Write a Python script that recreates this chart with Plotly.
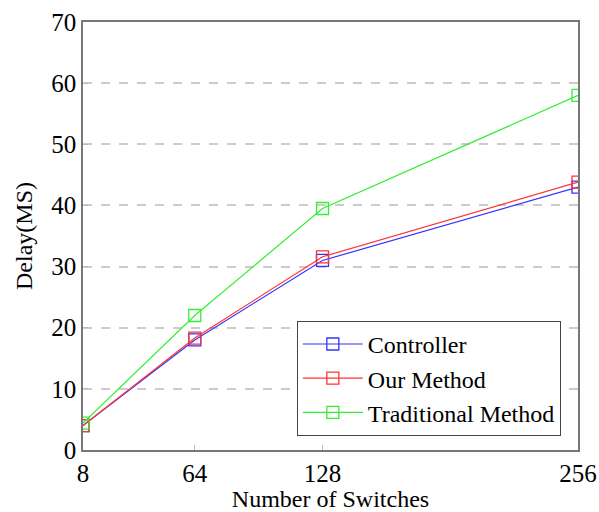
import plotly.graph_objects as go

switches = [8, 64, 128, 256]
controller = [4.0, 18.0, 31.0, 43.0]
our_method = [4.0, 18.3, 31.6, 43.8]
traditional = [4.4, 22.0, 39.5, 58.0]
y_ticks = [0, 10, 20, 30, 40, 50, 60, 70]

series = [
    ("Controller", controller, "#3333ff"),
    ("Our Method", our_method, "#ff3333"),
    ("Traditional Method", traditional, "#33ee33"),
]

fig = go.Figure()
for name, vals, col in series:
    fig.add_trace(go.Scatter(
        x=switches, y=vals, name=name, mode="lines+markers",
        line=dict(color=col, width=1.2),
        marker=dict(symbol="square-open", size=12, color=col, line=dict(width=1.3)),
    ))

font = "Liberation Serif"
fig.update_layout(
    width=599, height=512,
    margin=dict(l=83, r=21, t=22, b=62),
    plot_bgcolor="white", paper_bgcolor="white",
    font=dict(family=font, size=22, color="black"),
    showlegend=True,
    legend=dict(
        x=0.432, y=0.033, xanchor="left", yanchor="bottom",
        bordercolor="#444444", borderwidth=1, bgcolor="white",
        font=dict(family=font, size=24), itemwidth=60,
        tracegroupgap=0,
    ),
)
fig.update_xaxes(
    range=[8, 256], tickvals=switches, ticktext=[str(s) for s in switches],
    showgrid=False, zeroline=False, showline=True, linecolor="#777777", linewidth=1.5,
    mirror=True, ticks="inside", ticklen=5, tickcolor="#bbbbbb", automargin=False,
    tickfont=dict(size=25), title=dict(text="Number of Switches", font=dict(size=24), standoff=8),
)
fig.update_yaxes(
    range=[0, 70], tickvals=y_ticks,
    showgrid=True, gridcolor="#cccccc", griddash="dash", gridwidth=1.5,
    zeroline=False, showline=True, linecolor="#777777", linewidth=1.5,
    mirror=True, ticks="inside", ticklen=5, tickcolor="#bbbbbb", automargin=False,
    tickfont=dict(size=25), title=dict(text="Delay(MS)", font=dict(size=24), standoff=12),
)
fig.write_html("out.html", post_script="document.body.style.margin='0';",
               config={"displayModeBar": False})
